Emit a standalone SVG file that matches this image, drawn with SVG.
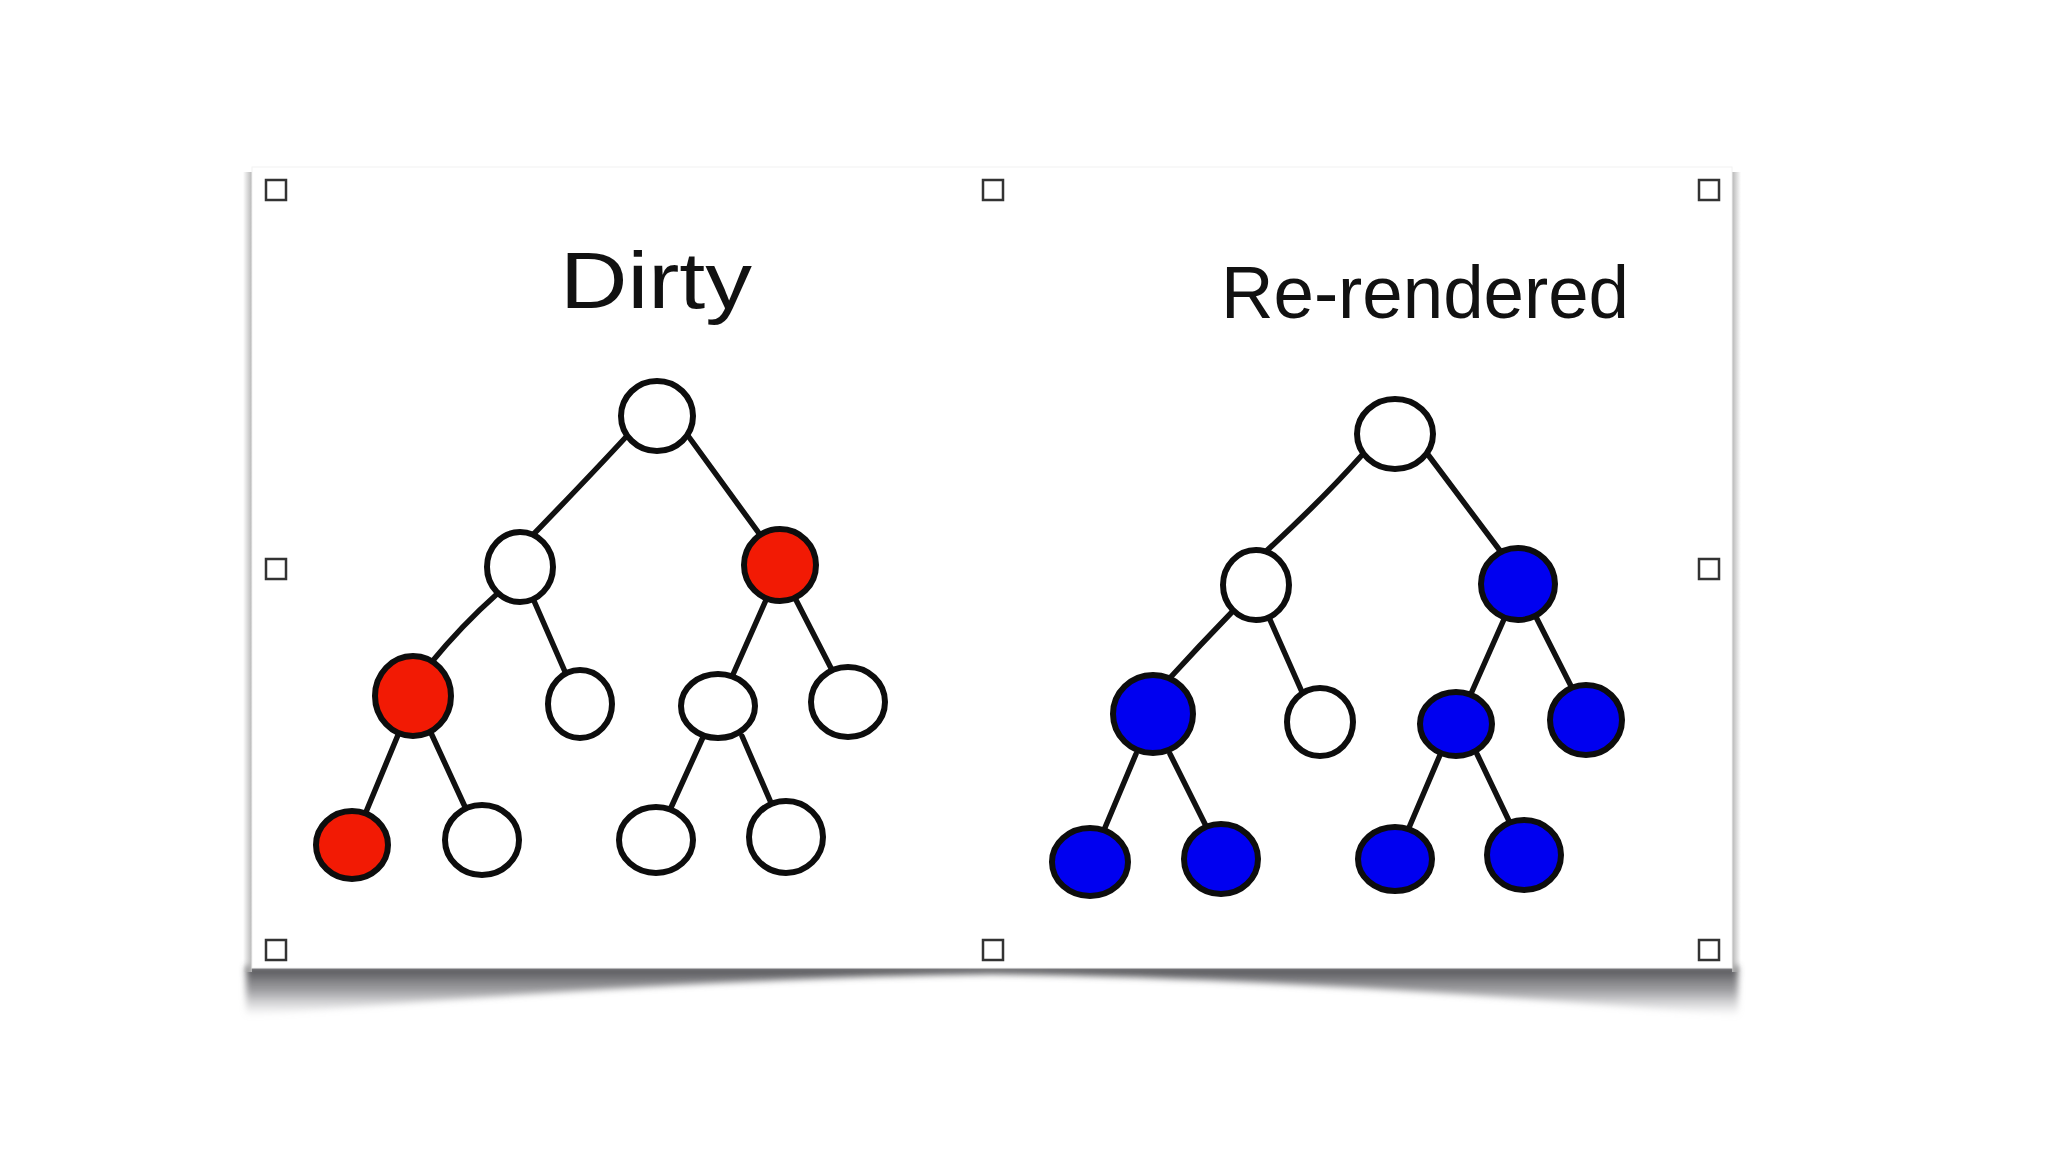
<svg xmlns="http://www.w3.org/2000/svg" width="2048" height="1152" viewBox="0 0 2048 1152">
<defs>
<style>
.edge{fill:none;stroke:#111;stroke-width:5.5;stroke-linecap:round}
.node{stroke:#0d0d0d;stroke-width:6}
.w{fill:#fff}
.r{fill:#f21a04}
.b{fill:#0000f0}
.h{fill:#fff;stroke:#333;stroke-width:2.5}
.t{font-family:"Liberation Sans","DejaVu Sans",sans-serif;fill:#111}
</style>
<linearGradient id="sg" x1="0" y1="0" x2="0" y2="1">
<stop offset="0" stop-color="#4a4a4e" stop-opacity="1"/>
<stop offset="0.5" stop-color="#8a8a8e" stop-opacity="0.8"/>
<stop offset="1" stop-color="#b0b0b4" stop-opacity="0"/>
</linearGradient>
<linearGradient id="lg" x1="1" y1="0" x2="0" y2="0">
<stop offset="0" stop-color="#b5b5b5"/>
<stop offset="1" stop-color="#b5b5b5" stop-opacity="0"/>
</linearGradient>
<linearGradient id="rg" x1="0" y1="0" x2="1" y2="0">
<stop offset="0" stop-color="#b5b5b5"/>
<stop offset="1" stop-color="#b5b5b5" stop-opacity="0"/>
</linearGradient>
<filter id="blur" x="-5%" y="-50%" width="110%" height="200%"><feGaussianBlur stdDeviation="3"/></filter>
</defs>
<rect width="2048" height="1152" fill="#fff"/>
<g id="card">
<path d="M246,966 L1738,966 L1738,1016 Q1300,978 992,974 Q690,978 246,1016 Z" fill="url(#sg)" filter="url(#blur)"/>
<rect x="243" y="172" width="9" height="800" fill="url(#lg)"/>
<rect x="1732" y="172" width="9" height="800" fill="url(#rg)"/>
<rect x="252" y="167" width="1480" height="801" fill="#fff" stroke="#f2f2f2" stroke-width="1"/>
</g>
<g id="handles">
<rect class="h" x="266" y="180" width="20" height="20"/>
<rect class="h" x="983" y="180" width="20" height="20"/>
<rect class="h" x="1699" y="180" width="20" height="20"/>
<rect class="h" x="266" y="559" width="20" height="20"/>
<rect class="h" x="1699" y="559" width="20" height="20"/>
<rect class="h" x="266" y="940" width="20" height="20"/>
<rect class="h" x="983" y="940" width="20" height="20"/>
<rect class="h" x="1699" y="940" width="20" height="20"/>
</g>
<g id="titles">
<text class="t" x="560" y="308" font-size="80" textLength="192" lengthAdjust="spacingAndGlyphs">Dirty</text>
<text class="t" x="1221" y="318" font-size="74" textLength="408" lengthAdjust="spacingAndGlyphs">Re-rendered</text>
</g>
<g id="connectors">
<path class="edge" d="M625,438 Q588,478 526,542"/>
<path class="edge" d="M686,433 L766,543"/>
<path class="edge" d="M497,594 Q462,625 430,664"/>
<path class="edge" d="M531,594 L566,674"/>
<path class="edge" d="M766,600 L731,679"/>
<path class="edge" d="M795,598 L833,672"/>
<path class="edge" d="M398,735 L366,812"/>
<path class="edge" d="M431,733 L466,809"/>
<path class="edge" d="M704,735 L669,812"/>
<path class="edge" d="M742,736 L772,805"/>
<path class="edge" d="M1362,455 Q1322,500 1262,555"/>
<path class="edge" d="M1426,452 L1504,556"/>
<path class="edge" d="M1232,612 Q1200,645 1168,680"/>
<path class="edge" d="M1267,613 L1302,692"/>
<path class="edge" d="M1505,617 L1470,696"/>
<path class="edge" d="M1535,615 L1573,690"/>
<path class="edge" d="M1136,754 L1104,830"/>
<path class="edge" d="M1170,754 L1207,828"/>
<path class="edge" d="M1440,755 L1408,830"/>
<path class="edge" d="M1477,754 L1510,823"/>
</g>
<g id="dirty-tree">
<g id="d-root"><ellipse class="node w" cx="657" cy="416" rx="36" ry="35"/></g>
<g id="d-l1a"><ellipse class="node w" cx="520" cy="567" rx="33" ry="35"/></g>
<g id="d-l1b"><ellipse class="node r" cx="780" cy="565" rx="36" ry="36"/></g>
<g id="d-l2a"><ellipse class="node r" cx="413" cy="696" rx="38" ry="40"/></g>
<g id="d-l2b"><ellipse class="node w" cx="580" cy="704" rx="32" ry="34"/></g>
<g id="d-l2c"><ellipse class="node w" cx="718" cy="706" rx="37" ry="32"/></g>
<g id="d-l2d"><ellipse class="node w" cx="848" cy="702" rx="37" ry="35"/></g>
<g id="d-l3a"><ellipse class="node r" cx="352" cy="845" rx="36" ry="34"/></g>
<g id="d-l3b"><ellipse class="node w" cx="482" cy="840" rx="37" ry="35"/></g>
<g id="d-l3c"><ellipse class="node w" cx="656" cy="840" rx="37" ry="33"/></g>
<g id="d-l3d"><ellipse class="node w" cx="786" cy="837" rx="37" ry="36"/></g>
</g>
<g id="rerendered-tree">
<g id="r-root"><ellipse class="node w" cx="1395" cy="434" rx="38" ry="35"/></g>
<g id="r-l1a"><ellipse class="node w" cx="1256" cy="585" rx="33" ry="35"/></g>
<g id="r-l1b"><ellipse class="node b" cx="1518" cy="584" rx="37" ry="36"/></g>
<g id="r-l2a"><ellipse class="node b" cx="1153" cy="714" rx="40" ry="39"/></g>
<g id="r-l2b"><ellipse class="node w" cx="1320" cy="722" rx="33" ry="34"/></g>
<g id="r-l2c"><ellipse class="node b" cx="1456" cy="724" rx="36" ry="32"/></g>
<g id="r-l2d"><ellipse class="node b" cx="1586" cy="720" rx="36" ry="35"/></g>
<g id="r-l3a"><ellipse class="node b" cx="1090" cy="862" rx="38" ry="34"/></g>
<g id="r-l3b"><ellipse class="node b" cx="1221" cy="859" rx="37" ry="35"/></g>
<g id="r-l3c"><ellipse class="node b" cx="1395" cy="859" rx="37" ry="32"/></g>
<g id="r-l3d"><ellipse class="node b" cx="1524" cy="855" rx="37" ry="35"/></g>
</g>
</svg>
